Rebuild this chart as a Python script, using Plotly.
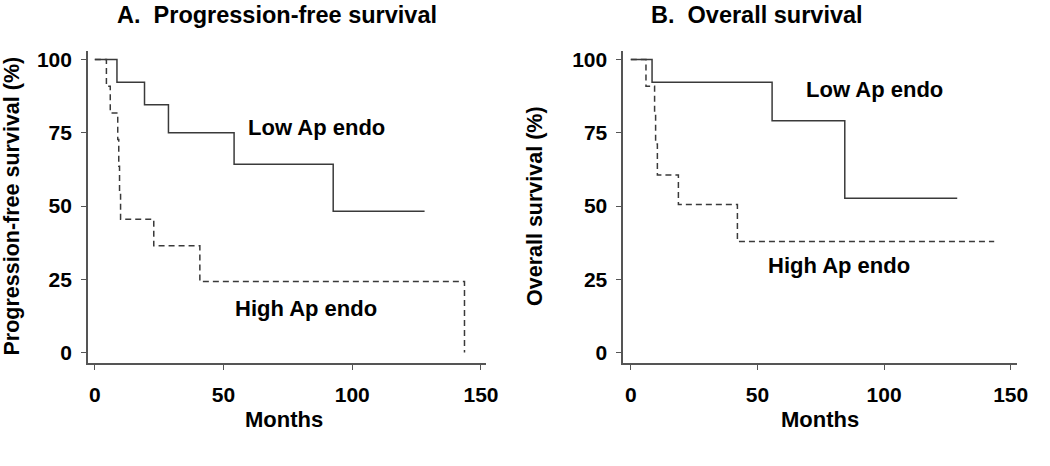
import plotly.graph_objects as go

# ---- data ----
pfs_low_t = [0, 8.6, 19.3, 28.6, 54.1, 92.6, 128.1]
pfs_low_s = [100, 92.3, 84.6, 75.0, 64.3, 48.2, 48.2]
pfs_high_t = [0, 4.5, 6.0, 8.9, 9.3, 9.6, 10.0, 22.9, 40.8, 143.6]
pfs_high_s = [100, 90.9, 81.8, 72.7, 63.6, 54.5, 45.5, 36.4, 24.2, 0]
os_low_t = [0, 8.4, 55.8, 84.5, 128.9]
os_low_s = [100, 92.3, 79.1, 52.7, 52.7]
os_high_t = [0, 6.0, 9.4, 9.8, 10.5, 18.8, 42.1, 143.5]
os_high_s = [100, 90.9, 81.8, 71.2, 60.6, 50.5, 37.9, 37.9]

x_ticks = [0, 50, 100, 150]
y_ticks = [0, 25, 50, 75, 100]

W, H = 1050, 466
FONT = "Arial, Liberation Sans, Helvetica, sans-serif"
LINE = "#3a3a3a"
AXC = "#555555"

def px(xp):
    return xp / W

def py(yp):
    return 1 - yp / H

fig = go.Figure()

def add_curve(t, s, xa, ya, dash):
    fig.add_trace(go.Scatter(x=t, y=s, mode="lines", line_shape="hv",
                             line=dict(color=LINE, width=1.5, dash=dash),
                             xaxis=xa, yaxis=ya, showlegend=False, hoverinfo="skip"))

add_curve(pfs_low_t, pfs_low_s, "x", "y", "solid")
add_curve(pfs_high_t, pfs_high_s, "x", "y", "6px,4px")
add_curve(os_low_t, os_low_s, "x2", "y2", "solid")
add_curve(os_high_t, os_high_s, "x2", "y2", "6px,4px")

tickfont = dict(family=FONT, size=21, color="#000", weight="bold")

def xaxis(domain, rng, anchor):
    return dict(domain=domain, range=rng, anchor=anchor, tickvals=x_ticks,
                showgrid=False, zeroline=False, showline=True, linecolor=AXC,
                linewidth=1.5, ticks="outside", ticklen=5, tickcolor=AXC,
                tickwidth=1.2, tickfont=tickfont, ticklabelstandoff=7, fixedrange=True)

def yaxis(domain, rng, anchor):
    return dict(domain=domain, range=rng, anchor=anchor, tickvals=y_ticks,
                showgrid=False, zeroline=False, showline=True, linecolor=AXC,
                linewidth=1.5, ticks="outside", ticklen=5, tickcolor=AXC,
                tickwidth=1.2, tickfont=tickfont, ticklabelstandoff=5, fixedrange=True)

ydom = [py(362.7), py(48)]
fig.update_layout(
    width=W, height=H, margin=dict(l=0, r=0, t=0, b=0),
    paper_bgcolor="white", plot_bgcolor="white",
    xaxis=xaxis([px(89), px(492)], [-2.69, 151.92], "y"),
    yaxis=yaxis(ydom, [-3.73, 103.05], "x"),
    xaxis2=xaxis([px(631), px(1030)], [-3.0, 152.6], "y2"),
    yaxis2=yaxis(ydom, [-3.73, 103.05], "x2"),
)

def ann(text, x, y, size=22, angle=0, xref="paper", yref="paper"):
    fig.add_annotation(text=text, x=x, y=y, xref=xref, yref=yref, showarrow=False,
                       textangle=angle, xanchor="center", yanchor="middle",
                       font=dict(family=FONT, size=size, color="#000", weight="bold"))

# panel titles
ann("A.  Progression-free survival", px(280.5), py(12), size=23.5)
ann("B.  Overall survival", px(766.7), py(12), size=23.5)
# axis titles
ann("Months", px(288), py(419), size=22)
ann("Months", px(830), py(419), size=22)
ann("Progression-free survival (%)", px(12), py(204), size=21.5, angle=-90)
ann("Overall survival (%)", px(541), py(204), size=21.5, angle=-90)
# group labels
ann("Low Ap endo", 86.2, 76.9, size=22, xref="x", yref="y")
ann("High Ap endo", 82.1, 15.1, size=22, xref="x", yref="y")
ann("Low Ap endo", 96.3, 89.9, size=22, xref="x2", yref="y2")
ann("High Ap endo", 82.1, 29.7, size=22, xref="x2", yref="y2")

fig.write_html("out.html", config={"displayModeBar": False},
               post_script="document.body.style.margin='0';")
